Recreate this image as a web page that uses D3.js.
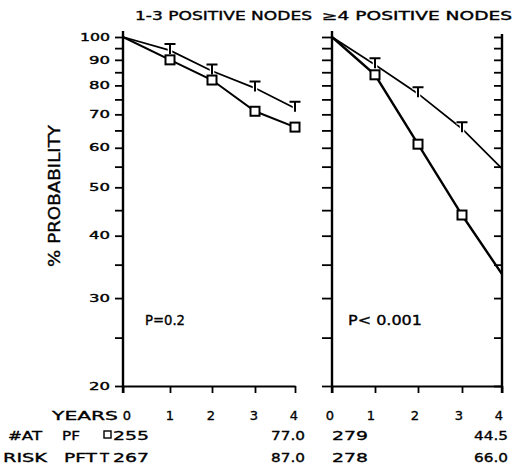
<!DOCTYPE html>
<html>
<head>
<meta charset="utf-8">
<script src="https://cdn.jsdelivr.net/npm/d3@7"></script>
<style>
  body { margin: 0; background: #fff; }
  svg { display: block; }
  text { font-family: "DejaVu Sans", sans-serif; fill: #000; stroke: #000; stroke-width: 0.35px; }
</style>
</head>
<body>
<svg id="chart"></svg>
<script>
// years after surgery
const years = [0, 1, 2, 3, 4];
// log y axis: labelled ticks and the unlabelled ones in between
const yLabelled = [20, 30, 40, 50, 60, 70, 80, 90, 100];
const yMinor = [25, 35, 45, 55, 65, 75, 85, 95];

const panelTitles = ["1-3 POSITIVE NODES", "≥4 POSITIVE NODES"];
const pLabels = ["P=0.2", "P< 0.001"];

// % probability, PF (squares) and PFT (T) -- 1-3 nodes
const pf13 = [100, 90, 82, 71, 66];
const pft13 = [100, 94, 85.5, 79, 72];
// >=4 nodes
const pf4 = [100, 84, 61, 44, 33.5];
const pft4 = [100, 88, 77, 65.5, 54.5];

// number at risk at year 0 and year 4
const riskPF = [["255", "77.0"], ["279", "44.5"]];
const riskPFT = [["267", "87.0"], ["278", "66.0"]];

const width = 526, height = 468;
const yBase = 386;

const panels = [
    { xRange: [123, 170, 212, 255, 295], pf: pf13, pft: pft13, labels: true, tickLen: 8,
      rightAxis: false, lastMarker: 4, pfWidth: 2, pX: 145, pW: 40,
      titleX: 135, titleW: 177, riskStart: -10, riskEnd: 10, labShift: [4, 0, -1, -1, -1] },
    { xRange: [332, 375, 418, 462, 502], pf: pf4, pft: pft4, labels: false, tickLen: 10,
      rightAxis: true, lastMarker: 3, pfWidth: 2.4, pX: 348, pW: 74,
      titleX: 322, titleW: 190, riskStart: 0, riskEnd: 6, labShift: [-2, -4, -3, -3, -3] }
];

const svg = d3.select("#chart")
    .attr("width", width)
    .attr("height", height);

svg.append("rect")
    .attr("width", width)
    .attr("height", height)
    .attr("fill", "#fff");

const y = d3.scaleLog()
    .domain([20, 100])
    .range([yBase, 37]);

// the lettering of the original is very wide, so squeeze text into measured widths
function fit(sel, w) {
    sel.attr("textLength", w).attr("lengthAdjust", "spacingAndGlyphs");
}

panels.forEach((p, i) => {
    const x = d3.scaleLinear().domain(years).range(p.xRange);
    const g = svg.append("g");

    // left y axis
    const yAxis = d3.axisLeft(y)
        .tickValues(yLabelled.concat(yMinor))
        .tickSize(p.tickLen)
        .tickPadding(5)
        .tickFormat(d => (p.labels && yLabelled.includes(d)) ? d : "");

    const yg = g.append("g")
        .attr("transform", `translate(${x(0)},0)`)
        .attr("font-family", "DejaVu Sans")
        .attr("font-size", 13)
        .call(yAxis);
    yg.select(".domain").remove();
    yg.selectAll("line").attr("stroke", "#000").attr("stroke-width", 1.8);
    yg.selectAll("text")
        .filter(d => p.labels && yLabelled.includes(d))
        .attr("fill", "#000")
        .each(function (d) { fit(d3.select(this), d === 100 ? 30 : 21); });

    g.append("line")
        .attr("x1", x(0)).attr("x2", x(0))
        .attr("y1", 31).attr("y2", yBase + 7)
        .attr("stroke", "#000").attr("stroke-width", 2.4);

    if (p.rightAxis) {
        const rg = g.append("g")
            .attr("transform", `translate(${x(4)},0)`)
            .call(d3.axisLeft(y).tickValues(yLabelled.concat(yMinor)).tickSize(8).tickFormat(""));
        rg.select(".domain").remove();
        rg.selectAll("line").attr("stroke", "#000").attr("stroke-width", 1.8);
        g.append("line")
            .attr("x1", x(4)).attr("x2", x(4))
            .attr("y1", 34).attr("y2", yBase + 7)
            .attr("stroke", "#000").attr("stroke-width", 2.4);
    }

    // x axis, ticks pointing down
    const xg = g.append("g")
        .attr("transform", `translate(0,${yBase})`)
        .call(d3.axisBottom(x).tickValues(years).tickSize(7).tickSizeOuter(0).tickFormat(""));
    xg.select(".domain").attr("stroke", "#000").attr("stroke-width", 2.2);
    xg.selectAll("line").attr("stroke", "#000").attr("stroke-width", 1.8);

    // year labels
    g.selectAll(".yr")
        .data(years)
        .join("text")
        .attr("class", "yr")
        .attr("x", d => x(d) + p.labShift[d])
        .attr("y", 420)
        .attr("text-anchor", "middle")
        .attr("font-size", 13)
        .text(d => d);

    const line = d3.line()
        .x((d, j) => x(years[j]))
        .y(d => y(d));

    g.append("path")
        .datum(p.pft)
        .attr("d", line)
        .attr("fill", "none")
        .attr("stroke", "#000")
        .attr("stroke-width", 1.7);

    g.append("path")
        .datum(p.pf)
        .attr("d", line)
        .attr("fill", "none")
        .attr("stroke", "#000")
        .attr("stroke-width", p.pfWidth);

    const marks = years.filter(d => d > 0 && d <= p.lastMarker);

    // T markers for PFT
    const tPath = d => {
        const cx = x(d), cy = y(p.pft[d]);
        return `M${cx - 5.5},${cy - 6.5}H${cx + 5.5}M${cx},${cy - 6.5}V${cy + 3.5}`;
    };
    g.selectAll(".thalo")
        .data(marks)
        .join("path")
        .attr("class", "thalo")
        .attr("d", tPath)
        .attr("fill", "none")
        .attr("stroke", "#fff")
        .attr("stroke-width", 4.5);
    g.selectAll(".tmark")
        .data(marks)
        .join("path")
        .attr("class", "tmark")
        .attr("d", tPath)
        .attr("fill", "none")
        .attr("stroke", "#000")
        .attr("stroke-width", 2);

    // squares for PF
    g.selectAll(".sq")
        .data(marks)
        .join("rect")
        .attr("class", "sq")
        .attr("x", d => x(d) - 4.5)
        .attr("y", d => y(p.pf[d]) - 4.5)
        .attr("width", 9)
        .attr("height", 9)
        .attr("fill", "#fff")
        .attr("stroke", "#000")
        .attr("stroke-width", 2);

    // p value
    g.append("text")
        .attr("x", p.pX)
        .attr("y", 325)
        .attr("font-size", 13.5)
        .text(pLabels[i])
        .call(fit, p.pW);

    // panel title
    g.append("text")
        .attr("x", p.titleX)
        .attr("y", 20)
        .attr("font-size", 11.5)
        .text(panelTitles[i])
        .call(fit, p.titleW);

    // numbers at risk
    [[riskPF[i], 440], [riskPFT[i], 462]].forEach(([vals, yy]) => {
        g.append("text")
            .attr("x", x(0) + p.riskStart)
            .attr("y", yy)
            .attr("font-size", 13)
            .text(vals[0])
            .call(fit, 36);
        g.append("text")
            .attr("x", x(4) + p.riskEnd)
            .attr("y", yy)
            .attr("text-anchor", "end")
            .attr("font-size", 13)
            .text(vals[1])
            .call(fit, 34);
    });
});

// y title
svg.append("text")
    .attr("transform", "translate(60,196) rotate(-90)")
    .attr("text-anchor", "middle")
    .attr("font-family", "Liberation Sans")
    .attr("font-size", 16)
    .attr("stroke-width", 0)
    .text("% PROBABILITY")
    .call(fit, 142);

// row headings of the at-risk table
const rowText = [
    ["YEARS", 52, 420, 66],
    ["#AT", 8, 440, 34],
    ["PF", 62, 440, 18],
    ["RISK", 3, 462, 44],
    ["PFT", 64, 462, 33],
    ["T", 100, 462, 9]
];
svg.selectAll(".rowh")
    .data(rowText)
    .join("text")
    .attr("class", "rowh")
    .attr("x", d => d[1])
    .attr("y", d => d[2])
    .attr("font-size", 13)
    .text(d => d[0])
    .each(function (d) { fit(d3.select(this), d[3]); });

// small square key next to PF
svg.append("rect")
    .attr("x", 104)
    .attr("y", 431)
    .attr("width", 7)
    .attr("height", 7)
    .attr("fill", "none")
    .attr("stroke", "#000")
    .attr("stroke-width", 1.4);
</script>
</body>
</html>
